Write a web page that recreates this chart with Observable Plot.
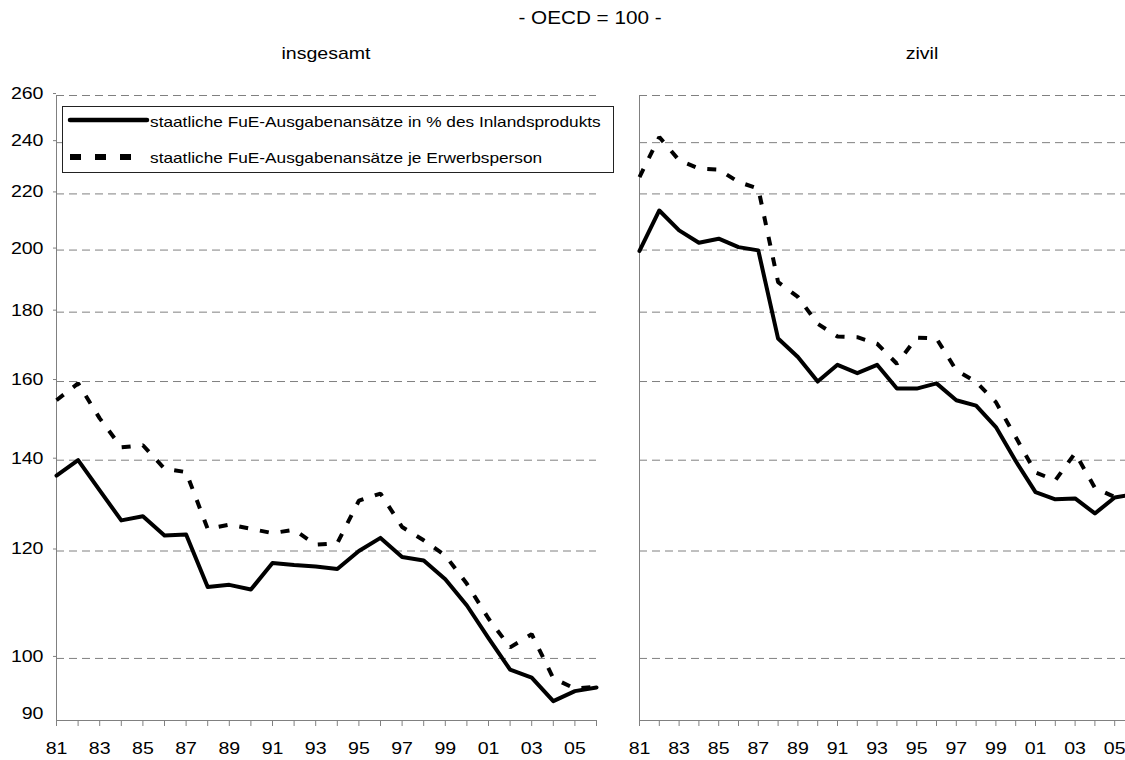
<!DOCTYPE html>
<html><head><meta charset="utf-8">
<script src="https://cdn.jsdelivr.net/npm/d3@7"></script>
<script src="https://cdn.jsdelivr.net/npm/@observablehq/plot@0.6"></script>
<style>
html,body{margin:0;padding:0;background:#fff;overflow:hidden;}
#root{position:relative;width:1125px;height:760px;overflow:hidden;font-family:"Liberation Sans",Arial,sans-serif;color:#000;}
.ttl{position:absolute;white-space:nowrap;line-height:1;transform:translate(-50%,-50%) scaleX(1.15);}
.pnl{position:absolute;top:80px;}
.leg{position:absolute;white-space:nowrap;line-height:1;font-size:15px;transform-origin:left center;transform:translateY(-50%) scaleX(1.15);}
</style></head><body><div id="root"></div>
<script>
// ---- data ----
const years = [1981,1982,1983,1984,1985,1986,1987,1988,1989,1990,1991,1992,1993,1994,1995,1996,1997,1998,1999,2000,2001,2002,2003,2004,2005,2006];
const insgesamtInlandsprodukt = [136.4,140.0,133.0,126.4,127.3,123.2,123.4,112.9,113.3,112.4,117.6,117.2,116.9,116.4,120.0,122.7,118.8,118.1,114.4,109.4,103.5,98.1,96.8,93.0,94.6,95.2];
const insgesamtErwerbsperson = [155.0,159.5,150.3,143.1,143.6,138.0,137.2,124.6,125.5,124.6,123.7,124.4,121.3,121.6,130.7,132.3,125.0,122.2,119.1,113.5,107.0,101.9,104.2,96.7,95.0,95.3];
const zivilInlandsprodukt = [199.7,213.9,206.8,202.5,203.9,201.0,199.9,172.1,166.8,160.0,164.6,162.3,164.6,158.1,158.1,159.5,155.0,153.6,148.1,139.8,132.6,131.0,131.2,127.9,131.4,132.2];
const zivilErwerbsperson = [226.4,242.3,232.9,229.7,229.3,224.5,222.0,189.4,184.7,176.5,172.7,172.5,170.6,164.9,172.4,172.1,163.1,159.9,154.5,145.6,137.1,135.3,141.7,133.6,131.5,132.0];
const yTicks = [100,120,140,160,180,200,220,240,260];
const yBottomTick = [90];
const gridValues = [100,120,140,160,180,200,220,240,260];
const seriesNames = ["staatliche FuE-Ausgabenansätze in % des Inlandsprodukts","staatliche FuE-Ausgabenansätze je Erwerbsperson"];
const titleText = "- OECD = 100 -";
const panelTitles = ["insgesamt","zivil"];

const root = document.getElementById("root");
const STRETCH = 1.15;

function stretchText(svg, k) {
  svg.querySelectorAll("text").forEach(t => {
    const w = t.getComputedTextLength();
    if (w > 0) {
      t.setAttribute("textLength", (w * k).toFixed(2));
      t.setAttribute("lengthAdjust", "spacingAndGlyphs");
    }
  });
}

function panel(bip, erw, opts) {
  const bipRows = years.map((yr, i) => ({year: yr, value: bip[i]}));
  const erwRows = years.map((yr, i) => ({year: yr, value: erw[i]}));
  return Plot.plot({
    width: opts.width, height: 680,
    marginTop: 15, marginBottom: 40, marginLeft: opts.marginLeft, marginRight: opts.marginRight,
    style: {fontFamily: "'Liberation Sans', Arial, sans-serif", fontSize: "17px", background: "transparent", color: "#000", overflow: "visible"},
    x: {domain: [1981, 2006]},
    y: {type: "log", domain: [90, 260]},
    marks: [
      Plot.ruleY(gridValues, {stroke: "#808080", strokeWidth: 1, strokeDasharray: "8,5"}),
      Plot.ruleX([1981], {stroke: "#808080", strokeWidth: 1}),
      Plot.ruleY([90], {stroke: "#808080", strokeWidth: 1}),
      Plot.axisX({ticks: years, tickSize: 6, tickPadding: 15, stroke: "#808080", fill: "#000",
        tickFormat: d => (d % 2 === 1 ? String(d).slice(2) : ""), label: null}),
      opts.showY
        ? Plot.axisY({ticks: yTicks, tickSize: 3, tickPadding: 10, stroke: "#808080", fill: "#000", tickFormat: d => String(d), label: null, dy: -2})
        : Plot.axisY({ticks: [], label: null}),
      opts.showY
        ? Plot.axisY({ticks: yBottomTick, tickSize: 0, tickPadding: 13, fill: "#000", tickFormat: d => String(d), label: null, dy: -7})
        : null,
      Plot.line(erwRows, {x: "year", y: "value", stroke: "#000", strokeWidth: 4, strokeDasharray: "9,12", strokeLinecap: "butt", strokeLinejoin: "miter"}),
      Plot.line(bipRows, {x: "year", y: "value", stroke: "#000", strokeWidth: 4, strokeLinejoin: "round"})
    ]
  });
}

// titles
function addTitle(text, cx, cy, size) {
  const d = document.createElement("div");
  d.className = "ttl";
  d.style.left = cx + "px"; d.style.top = cy + "px"; d.style.fontSize = size + "px";
  d.textContent = text;
  root.appendChild(d);
}
addTitle(titleText, 590, 18, 18);
addTitle(panelTitles[0], 326, 53, 17);
addTitle(panelTitles[1], 922, 53, 17);

// panels
const left = panel(insgesamtInlandsprodukt, insgesamtErwerbsperson, {width: 606, marginLeft: 56, marginRight: 10, showY: true});
left.classList.add("pnl"); left.style.left = "0px";
root.appendChild(left);
const right = panel(zivilInlandsprodukt, zivilErwerbsperson, {width: 534, marginLeft: 39, marginRight: 0, showY: false});
right.classList.add("pnl"); right.style.left = "600px";
root.appendChild(right);
stretchText(left, STRETCH);
stretchText(right, STRETCH);

// legend
const box = document.createElement("div");
box.style.cssText = "position:absolute;left:62px;top:106px;width:550px;height:65px;border:1px solid #222;background:#fff;";
root.appendChild(box);
const sw = document.createElementNS("http://www.w3.org/2000/svg", "svg");
sw.setAttribute("width", "90"); sw.setAttribute("height", "60");
sw.style.cssText = "position:absolute;left:66px;top:110px;";
sw.innerHTML = '<line x1="4" x2="81" y1="10" y2="10" stroke="#000" stroke-width="4.5" stroke-linecap="round"/>' +
  '<line x1="4" x2="67" y1="47" y2="47" stroke="#000" stroke-width="6" stroke-dasharray="11,14"/>';
root.appendChild(sw);
seriesNames.forEach((name, i) => {
  const d = document.createElement("div");
  d.className = "leg";
  d.style.left = "150px"; d.style.top = (i === 0 ? 121 : 157) + "px";
  d.textContent = name;
  root.appendChild(d);
});
</script>
</body></html>
